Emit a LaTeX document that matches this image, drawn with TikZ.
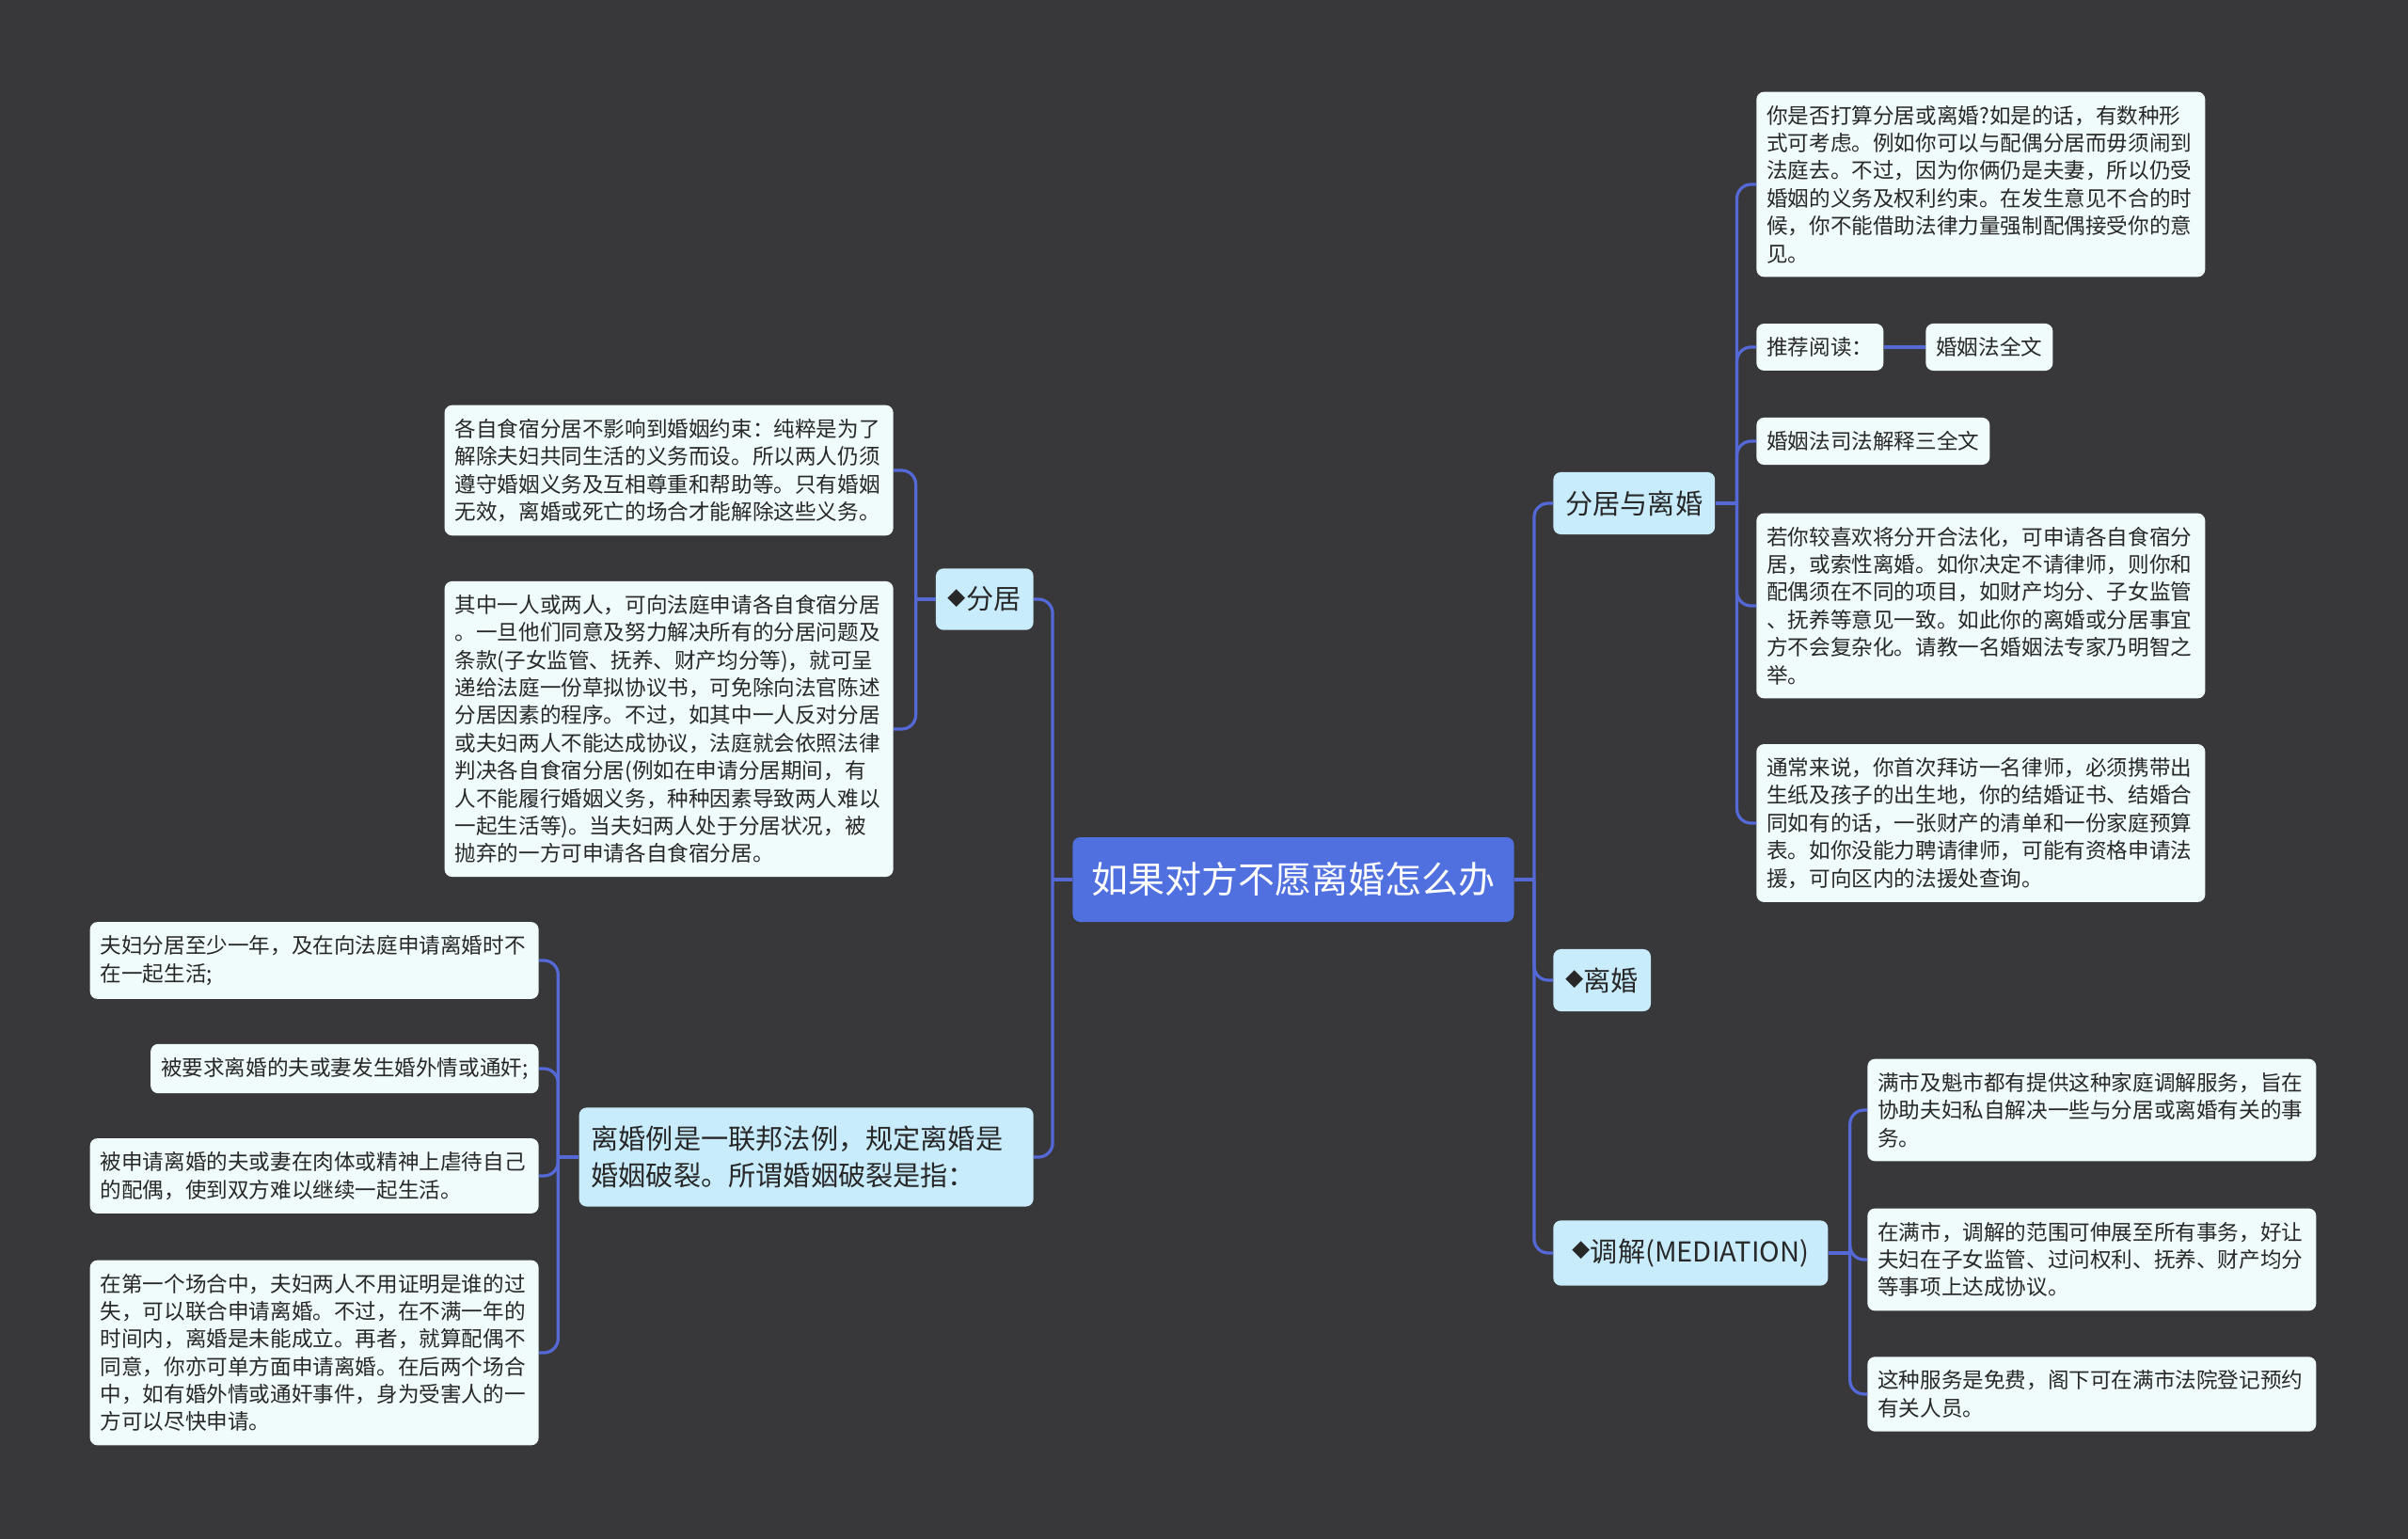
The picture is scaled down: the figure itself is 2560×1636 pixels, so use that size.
\documentclass[tikz,border=0pt]{standalone}
\usepackage{fontspec}
\usepackage{xcolor}
\usepackage{tikz}
\usetikzlibrary{positioning,calc}
\newfontfamily\cjk{Noto Sans CJK SC}
\definecolor{mapbg}{RGB}{56,55,57}
\definecolor{rootblue}{RGB}{80,112,224}
\definecolor{topicfill}{RGB}{200,236,252}
\definecolor{leaffill}{RGB}{240,251,252}
\definecolor{linkblue}{RGB}{84,104,214}
\definecolor{inkgray}{RGB}{40,40,40}
\newcommand{\topicmark}{\raisebox{2.6pt}{\fontsize{11}{11}\selectfont ◆}}

\begin{document}
\begin{tikzpicture}[x=0.2mm, y=-0.2mm,
    rootbox/.style={fill=rootblue, rounded corners=1.6mm, text=white, font=\cjk\fontsize{22.2}{27}\selectfont, inner xsep=4mm, minimum height=18mm},
    topic/.style={fill=topicfill, rounded corners=1.6mm, text=inkgray, font=\cjk\fontsize{16.6}{22.2}\selectfont, inner xsep=2.6mm, inner ysep=3.9mm, align=left},
    card/.style={fill=leaffill, rounded corners=1.6mm, text=inkgray, font=\cjk\fontsize{12.86}{16.7}\selectfont, inner xsep=2.2mm, inner ysep=2.9mm, align=left},
    leaf/.style={card, text width=91mm},
    link/.style={draw=linkblue, line width=0.65mm, rounded corners=3mm}]

    % Canvas
    \fill[mapbg] (0,0) rectangle (2560,1636);
    \useasboundingbox (0,0) rectangle (2560,1636);

    % Root
    \node[rootbox] (root) at (1375,935) {如果对方不愿离婚怎么办};

    % Left topics
    \node[topic, anchor=east] (fenju) at (1099,637) {\topicmark 分居};
    \node[topic, anchor=east, text width=91.4mm] (lihunli) at (1099,1230) {离婚例是一联邦法例，规定离婚是\\婚姻破裂。所谓婚姻破裂是指：};

    % Right topics
    \node[topic, anchor=west] (fjlh) at (1651,535) {分居与离婚};
    \node[topic, anchor=west] (lihun) at (1651,1042) {\topicmark 离婚};
    \node[topic, anchor=west, minimum width=58.4mm] (tiaojie) at (1651,1332) {\topicmark 调解(MEDIATION)};

    % Leaves of fenju
    \node[leaf, anchor=east] (fjA) at (950,500) {各自食宿分居不影响到婚姻约束：纯粹是为了\\
        解除夫妇共同生活的义务而设。所以两人仍须\\
        遵守婚姻义务及互相尊重和帮助等。只有婚姻\\
        无效，离婚或死亡的场合才能解除这些义务。};
    \node[leaf, anchor=east] (fjB) at (950,775) {其中一人或两人，可向法庭申请各自食宿分居\\
        。一旦他们同意及努力解决所有的分居问题及\\
        条款(子女监管、抚养、财产均分等)，就可呈\\
        递给法庭一份草拟协议书，可免除向法官陈述\\
        分居因素的程序。不过，如其中一人反对分居\\
        或夫妇两人不能达成协议，法庭就会依照法律\\
        判决各自食宿分居(例如在申请分居期间，有\\
        人不能履行婚姻义务，种种因素导致两人难以\\
        一起生活等)。当夫妇两人处于分居状况，被\\
        抛弃的一方可申请各自食宿分居。};

    % Leaves of lihunli
    \node[leaf, anchor=east] (lhA) at (573,1021) {夫妇分居至少一年，及在向法庭申请离婚时不\\
        在一起生活;};
    \node[card, anchor=east] (lhB) at (573,1136) {被要求离婚的夫或妻发生婚外情或通奸;};
    \node[leaf, anchor=east] (lhC) at (573,1250) {被申请离婚的夫或妻在肉体或精神上虐待自己\\
        的配偶，使到双方难以继续一起生活。};
    \node[leaf, anchor=east] (lhD) at (573,1438) {在第一个场合中，夫妇两人不用证明是谁的过\\
        失，可以联合申请离婚。不过，在不满一年的\\
        时间内，离婚是未能成立。再者，就算配偶不\\
        同意，你亦可单方面申请离婚。在后两个场合\\
        中，如有婚外情或通奸事件，身为受害人的一\\
        方可以尽快申请。};

    % Leaves of fjlh
    \node[leaf, anchor=west] (fl1) at (1867,196) {你是否打算分居或离婚?如是的话，有数种形\\
        式可考虑。例如你可以与配偶分居而毋须闹到\\
        法庭去。不过，因为你俩仍是夫妻，所以仍受\\
        婚姻的义务及权利约束。在发生意见不合的时\\
        候，你不能借助法律力量强制配偶接受你的意\\
        见。};
    \node[card, anchor=west] (fl2) at (1867,369) {推荐阅读：};
    \node[card, anchor=west] (fl2a) at (2047,369) {婚姻法全文};
    \node[card, anchor=west] (fl3) at (1867,469) {婚姻法司法解释三全文};
    \node[leaf, anchor=west] (fl4) at (1867,644) {若你较喜欢将分开合法化，可申请各自食宿分\\
        居，或索性离婚。如你决定不请律师，则你和\\
        配偶须在不同的项目，如财产均分、子女监管\\
        、抚养等意见一致。如此你的离婚或分居事宜\\
        方不会复杂化。请教一名婚姻法专家乃明智之\\
        举。};
    \node[leaf, anchor=west] (fl5) at (1867,875) {通常来说，你首次拜访一名律师，必须携带出\\
        生纸及孩子的出生地，你的结婚证书、结婚合\\
        同如有的话，一张财产的清单和一份家庭预算\\
        表。如你没能力聘请律师，可能有资格申请法\\
        援，可向区内的法援处查询。};

    % Leaves of tiaojie
    \node[leaf, anchor=west] (tj1) at (1985,1180) {满市及魁市都有提供这种家庭调解服务，旨在\\
        协助夫妇私自解决一些与分居或离婚有关的事\\
        务。};
    \node[leaf, anchor=west] (tj2) at (1985,1339) {在满市，调解的范围可伸展至所有事务，好让\\
        夫妇在子女监管、过问权利、抚养、财产均分\\
        等事项上达成协议。};
    \node[leaf, anchor=west] (tj3) at (1985,1482) {这种服务是免费，阁下可在满市法院登记预约\\
        有关人员。};

    % Links, left side
    \draw[link] (root.west) -- ++(-21,0) coordinate (rootL);
    \draw[link] (rootL) |- (fenju.east);
    \draw[link] (rootL) |- (lihunli.east);
    \draw[link] (fenju.west) -- ++(-21,0) coordinate (fenjuL);
    \draw[link] (fenjuL) |- (fjA.east);
    \draw[link] (fenjuL) |- (fjB.east);
    \draw[link] (lihunli.west) -- ++(-22,0) coordinate (lihunliL);
    \draw[link] (lihunliL) |- (lhA.east);
    \draw[link] (lihunliL) |- (lhB.east);
    \draw[link] (lihunliL) |- (lhC.east);
    \draw[link] (lihunliL) |- (lhD.east);

    % Links, right side
    \draw[link] (root.east) -- ++(21,0) coordinate (rootR);
    \draw[link] (rootR) |- (fjlh.west);
    \draw[link] (rootR) |- (lihun.west);
    \draw[link] (rootR) |- (tiaojie.west);
    \draw[link] (fjlh.east) -- ++(23,0) coordinate (fjlhR);
    \draw[link] (fjlhR) |- (fl1.west);
    \draw[link] (fjlhR) |- (fl2.west);
    \draw[link] (fjlhR) |- (fl3.west);
    \draw[link] (fjlhR) |- (fl4.west);
    \draw[link] (fjlhR) |- (fl5.west);
    \draw[link] (fl2.east) -- (fl2a.west);
    \draw[link] (tiaojie.east) -- ++(23,0) coordinate (tiaojieR);
    \draw[link] (tiaojieR) |- (tj1.west);
    \draw[link] (tiaojieR) |- (tj2.west);
    \draw[link] (tiaojieR) |- (tj3.west);
\end{tikzpicture}
\end{document}
